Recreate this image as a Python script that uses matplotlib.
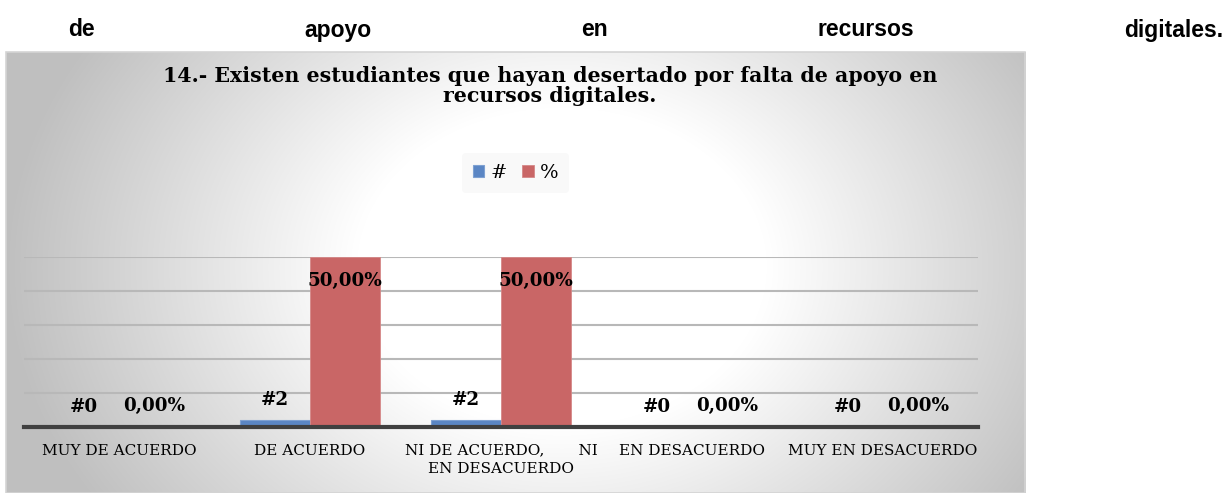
"""Bar chart: students who dropped out for lack of digital-resource support."""
import numpy as np
import matplotlib
matplotlib.use("Agg")
import matplotlib.pyplot as plt
from matplotlib.patches import Rectangle

W, H = 1226, 493

TOP_LINE = "de apoyo en recursos digitales."
TITLE = ("14.- Existen estudiantes que hayan desertado por falta de apoyo en\n"
         "recursos digitales.")
CATEGORIES = ["MUY DE ACUERDO", "DE ACUERDO", "NI DE ACUERDO, NI EN DESACUERDO",
              "EN DESACUERDO", "MUY EN DESACUERDO"]
TICK_LABELS = ["MUY DE ACUERDO", "DE ACUERDO",
               "NI DE ACUERDO,       NI\nEN DESACUERDO",
               "EN DESACUERDO", "MUY EN DESACUERDO"]
COUNTS = [0, 2, 2, 0, 0]
PERCENTS = [0, 50, 50, 0, 0]
SERIES = ["#", "%"]

BLUE = "#5b86c4"
RED = "#c96666"
SERIF = "DejaVu Serif"

fig = plt.figure(figsize=(W / 100, H / 100), dpi=100)
fig.patch.set_facecolor("white")

# chart box with grey radial fill
bx0, bx1, by0 = 6, 1025, 52
bg = fig.add_axes([bx0 / W, 0, (bx1 - bx0) / W, (H - by0) / H], zorder=0)
bw, bh = bx1 - bx0, H - by0
xx, yy = np.meshgrid(np.arange(bw), np.arange(bh))
d = np.hypot((xx - 555) / 540, (yy - 215) / 420)
shade = 1 - np.clip((d - 0.38) / 0.65, 0, 1) * 0.25
bg.imshow(np.dstack([shade] * 3), aspect="auto", interpolation="bilinear")
bg.axis("off")
fig.patches.append(Rectangle((bx0 / W, 0), (bx1 - bx0) / W, (H - by0) / H,
                             transform=fig.transFigure, fill=False,
                             edgecolor="#d4d4d4", lw=1.2, zorder=1))

# plot area
px0, px1, base, top = 23.5, 978.5, 427, 257
ax = fig.add_axes([px0 / W, (H - base) / H, (px1 - px0) / W, (base - top) / H], zorder=2)
ax.set_facecolor("none")
x = np.arange(len(CATEGORIES))
bw_ = 0.367
b1 = ax.bar(x - bw_ / 2, COUNTS, bw_, color=BLUE, edgecolor="#7fa1d2", lw=0.8, zorder=2)
b2 = ax.bar(x + bw_ / 2, PERCENTS, bw_, color=RED, edgecolor="#d58888", lw=0.6, zorder=2)
ax.set_xlim(-0.5, len(CATEGORIES) - 0.5)
ax.set_ylim(0, 50)
ax.set_yticks([10, 20, 30, 40, 50])
ax.yaxis.grid(True, color="#b8b8b8", lw=1.5, zorder=0)
ax.tick_params(axis="y", length=0, labelleft=False)
for s in ax.spines.values():
    s.set_visible(False)
ax.axhline(0, color="#404040", lw=3.0, zorder=3, clip_on=False)

ax.set_xticks(x)
ax.set_xticklabels(TICK_LABELS, fontfamily=SERIF, fontsize=11)
ax.tick_params(axis="x", length=0, pad=12)
for lab in ax.get_xticklabels():
    lab.set_linespacing(1.4)

lbl = dict(ha="center", va="center", fontfamily=SERIF, fontsize=13.2,
           fontweight="bold", textcoords="offset pixels", zorder=4)
for xi, c, p in zip(x, COUNTS, PERCENTS):
    ax.annotate(f"#{c}", (xi - bw_ / 2, c), xytext=(0, 20), **lbl)
    off = -24 if p >= 50 else 21
    ax.annotate(f"{p:.2f}%".replace(".", ","), (xi + bw_ / 2, p), xytext=(0, off), **lbl)

leg = fig.legend([b1, b2], SERIES, loc="center", bbox_to_anchor=(515.5 / W, 1 - 173 / H),
                 ncol=2, frameon=True, prop={"family": SERIF, "size": 14},
                 handlelength=0.6, handleheight=0.6, handletextpad=0.3,
                 columnspacing=0.8, borderpad=0.55)
leg.get_frame().set_facecolor("#f8f8f8")
leg.get_frame().set_edgecolor("none")

fig.text(550 / W, 1 - 86 / H, TITLE, ha="center", va="center", fontfamily=SERIF,
         fontsize=14.8, fontweight="bold", linespacing=1.05, zorder=5)

# justified paragraph line above the chart
words = TOP_LINE.split()
texts = [fig.text(0, 1 - 30 / H, w, ha="left", va="center", fontfamily="Liberation Sans",
                  fontsize=16.5, fontweight="bold") for w in words]
renderer = fig.canvas.get_renderer()
widths = [t.get_window_extent(renderer).width for t in texts]
gap = (1223 - 68 - sum(widths)) / (len(words) - 1)
pos = 68
for t, w in zip(texts, widths):
    t.set_x(pos / W)
    pos += w + gap

fig.savefig("out.png", dpi=100)
